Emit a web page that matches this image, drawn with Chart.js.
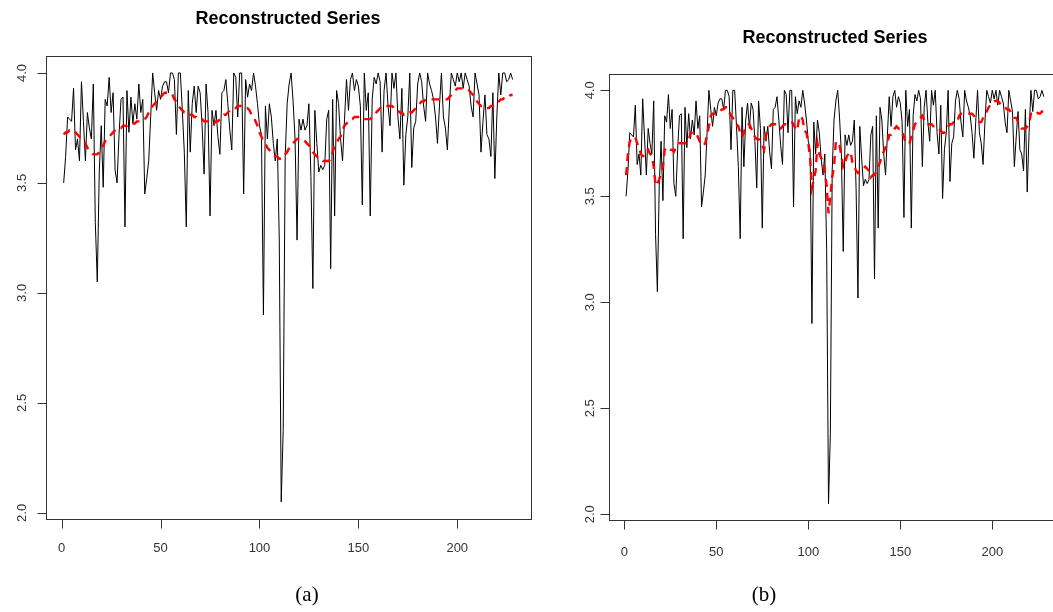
<!DOCTYPE html>
<html>
<head>
<meta charset="utf-8">
<script src="https://cdn.jsdelivr.net/npm/chart.js@4.4.0/dist/chart.umd.min.js"></script>
<style>
  html, body { margin:0; padding:0; background:#fff; overflow:hidden; }
  body { width:1053px; height:612px; position:relative; }
  canvas { position:absolute; top:0; }
  .title { position:absolute; font-family:'Liberation Sans', Arial, sans-serif; font-weight:bold; font-size:18px; color:#000; transform:translate(-50%,-50%); white-space:nowrap; }
  .caption { position:absolute; font-family:'Liberation Serif', 'Times New Roman', serif; font-size:21px; color:#000; transform:translate(-50%,-50%); }
</style>
</head>
<body>
<canvas id="chartA" width="545" height="612" style="left:0;width:545px;height:612px"></canvas>
<canvas id="chartB" width="525" height="612" style="left:545px;width:525px;height:612px"></canvas>
<div class="title" style="left:288px;top:18px">Reconstructed Series</div>
<div class="title" style="left:835px;top:37px">Reconstructed Series</div>
<div class="caption" style="left:307px;top:594px">(a)</div>
<div class="caption" style="left:764px;top:594px">(b)</div>
<script>
// original series (black), same in both panels
const original = [
  3.50, 3.62, 3.80, 3.79, 3.78, 3.93, 3.65, 3.70, 3.60, 3.96,
  3.78, 3.60, 3.82, 3.75, 3.70, 3.95, 3.32, 3.05, 3.55, 3.76,
  3.48, 3.88, 3.85, 3.98, 3.82, 3.91, 3.56, 3.50, 3.72, 3.88,
  3.89, 3.30, 3.92, 3.73, 3.89, 3.77, 3.86, 3.79, 3.95, 3.82,
  3.88, 3.45, 3.52, 3.60, 3.80, 4.00, 3.91, 3.83, 3.92, 3.88,
  3.94, 3.96, 3.96, 3.91, 4.00, 4.00, 3.97, 3.72, 4.00, 4.00,
  3.83, 3.64, 3.30, 3.92, 3.64, 3.86, 3.94, 3.82, 3.94, 3.91,
  3.76, 3.54, 3.95, 3.82, 3.35, 3.83, 3.76, 3.83, 3.71, 3.63,
  3.91, 3.92, 3.97, 3.86, 3.74, 3.65, 4.00, 3.98, 3.80, 4.00,
  4.00, 3.45, 3.97, 3.89, 3.95, 3.92, 4.00, 3.94, 3.86, 3.76,
  3.72, 2.90, 3.85, 3.70, 3.86, 3.80, 3.68, 3.60, 3.70, 3.25,
  2.05, 2.38, 3.62, 3.86, 3.95, 4.00, 3.87, 3.70, 3.24, 3.79,
  3.74, 3.79, 3.74, 3.76, 3.86, 3.53, 3.02, 3.83, 3.68, 3.55,
  3.58, 3.56, 3.58, 3.79, 3.83, 3.11, 3.88, 3.35, 3.92, 3.86,
  3.70, 3.60, 3.79, 3.97, 3.83, 3.97, 4.00, 3.92, 3.97, 3.94,
  3.85, 3.40, 4.00, 3.83, 3.91, 3.35, 3.88, 3.98, 3.95, 4.00,
  3.96, 3.64, 3.92, 4.00, 3.85, 3.76, 4.00, 3.93, 4.00, 3.80,
  3.70, 3.93, 3.49, 3.72, 3.80, 4.00, 3.57, 3.75, 3.78, 3.95,
  4.00, 3.96, 3.85, 3.78, 4.00, 3.95, 3.92, 3.88, 3.80, 3.68,
  3.85, 4.00, 3.80, 3.75, 3.65, 3.85, 4.00, 3.97, 3.94, 4.00,
  3.96, 4.00, 3.93, 4.00, 3.97, 3.94, 3.85, 3.80, 4.00, 3.95,
  3.90, 3.64, 3.78, 3.90, 3.72, 3.70, 3.62, 3.91, 3.52, 3.80,
  4.00, 3.90, 4.00, 4.00, 3.96, 3.97, 4.00, 3.97
];

// reconstruction shown in panel (a), smooth
const reconA = [
  3.72, 3.73, 3.73, 3.74, 3.74, 3.74, 3.73, 3.72, 3.71, 3.70,
  3.69, 3.68, 3.66, 3.65, 3.64, 3.63, 3.63, 3.63, 3.64, 3.66,
  3.67, 3.69, 3.70, 3.71, 3.72, 3.73, 3.74, 3.75, 3.75, 3.75,
  3.76, 3.76, 3.76, 3.77, 3.77, 3.77, 3.77, 3.78, 3.78, 3.78,
  3.79, 3.79, 3.80, 3.82, 3.84, 3.85, 3.86, 3.87, 3.88, 3.89,
  3.90, 3.91, 3.91, 3.91, 3.91, 3.90, 3.88, 3.87, 3.85, 3.84,
  3.83, 3.82, 3.82, 3.81, 3.81, 3.81, 3.80, 3.80, 3.79, 3.79,
  3.79, 3.78, 3.78, 3.78, 3.77, 3.77, 3.77, 3.78, 3.78, 3.79,
  3.80, 3.81, 3.81, 3.82, 3.83, 3.83, 3.84, 3.84, 3.85, 3.85,
  3.85, 3.85, 3.84, 3.84, 3.83, 3.81, 3.80, 3.78, 3.76, 3.73,
  3.71, 3.69, 3.68, 3.66, 3.65, 3.64, 3.63, 3.62, 3.62, 3.61,
  3.61, 3.62, 3.63, 3.64, 3.66, 3.67, 3.68, 3.69, 3.70, 3.70,
  3.70, 3.70, 3.69, 3.68, 3.67, 3.66, 3.64, 3.63, 3.62, 3.61,
  3.61, 3.60, 3.60, 3.60, 3.60, 3.61, 3.64, 3.67, 3.68, 3.70,
  3.71, 3.74, 3.76, 3.77, 3.78, 3.79, 3.79, 3.80, 3.80, 3.80,
  3.80, 3.80, 3.79, 3.79, 3.79, 3.79, 3.80, 3.81, 3.82, 3.83,
  3.84, 3.84, 3.85, 3.85, 3.85, 3.85, 3.85, 3.84, 3.84, 3.83,
  3.82, 3.82, 3.81, 3.81, 3.81, 3.82, 3.82, 3.83, 3.84, 3.85,
  3.86, 3.87, 3.87, 3.88, 3.88, 3.88, 3.88, 3.88, 3.88, 3.88,
  3.88, 3.88, 3.88, 3.88, 3.88, 3.89, 3.90, 3.91, 3.92, 3.93,
  3.93, 3.93, 3.93, 3.93, 3.93, 3.92, 3.91, 3.90, 3.89, 3.87,
  3.86, 3.85, 3.85, 3.84, 3.84, 3.84, 3.85, 3.85, 3.86, 3.86,
  3.87, 3.88, 3.88, 3.89, 3.89, 3.89, 3.90, 3.90
];

// reconstruction shown in panel (b), wiggly
const reconB = [
  3.60, 3.70, 3.76, 3.77, 3.78, 3.78, 3.75, 3.73, 3.70, 3.69,
  3.69, 3.71, 3.72, 3.70, 3.69, 3.64, 3.55, 3.56, 3.58, 3.61,
  3.64, 3.72, 3.73, 3.73, 3.72, 3.72, 3.71, 3.73, 3.74, 3.75,
  3.75, 3.75, 3.75, 3.76, 3.76, 3.80, 3.80, 3.80, 3.80, 3.78,
  3.76, 3.74, 3.74, 3.75, 3.79, 3.83, 3.88, 3.89, 3.89, 3.89,
  3.90, 3.90, 3.91, 3.91, 3.92, 3.92, 3.90, 3.88, 3.87, 3.86,
  3.84, 3.83, 3.80, 3.78, 3.80, 3.83, 3.84, 3.84, 3.82, 3.80,
  3.78, 3.77, 3.77, 3.76, 3.74, 3.72, 3.79, 3.81, 3.83, 3.84,
  3.84, 3.84, 3.84, 3.83, 3.82, 3.83, 3.84, 3.84, 3.84, 3.85,
  3.85, 3.84, 3.82, 3.81, 3.87, 3.88, 3.86, 3.81, 3.80, 3.75,
  3.68, 3.54, 3.58, 3.62, 3.75, 3.70, 3.68, 3.67, 3.61, 3.55,
  3.42, 3.50, 3.59, 3.64, 3.76, 3.75, 3.74, 3.69, 3.64, 3.66,
  3.69, 3.70, 3.71, 3.66, 3.64, 3.62, 3.61, 3.62, 3.63, 3.63,
  3.64, 3.63, 3.62, 3.59, 3.60, 3.60, 3.62, 3.64, 3.66, 3.69,
  3.71, 3.73, 3.75, 3.79, 3.79, 3.80, 3.82, 3.83, 3.82, 3.82,
  3.81, 3.78, 3.75, 3.75, 3.75, 3.78, 3.81, 3.84, 3.85, 3.86,
  3.87, 3.88, 3.86, 3.84, 3.84, 3.84, 3.84, 3.83, 3.83, 3.82,
  3.82, 3.81, 3.80, 3.80, 3.81, 3.83, 3.84, 3.84, 3.85, 3.85,
  3.85, 3.88, 3.89, 3.89, 3.89, 3.89, 3.89, 3.89, 3.89, 3.88,
  3.87, 3.86, 3.85, 3.85, 3.87, 3.89, 3.90, 3.92, 3.93, 3.94,
  3.95, 3.95, 3.95, 3.94, 3.93, 3.92, 3.92, 3.91, 3.91, 3.90,
  3.88, 3.87, 3.87, 3.85, 3.84, 3.82, 3.82, 3.82, 3.83, 3.84,
  3.89, 3.89, 3.90, 3.90, 3.89, 3.89, 3.90, 3.90
];

// axis ticks
const xTicks = [0, 50, 100, 150, 200];
const xTickLabels = ['0', '50', '100', '150', '200'];
const yTicks = [2.0, 2.5, 3.0, 3.5, 4.0];
const yTickLabels = ['2.0', '2.5', '3.0', '3.5', '4.0'];

// R style range: data range widened by 4% each side
const n = original.length;
const xSpan = n - 1;
const yLo = Math.min(...original), yHi = Math.max(...original);
const ySpan = yHi - yLo;

// box, ticks and labels drawn like base R graphics
const rAxes = {
  id: 'rAxes',
  afterDraw(chart, args, o) {
    const { ctx, chartArea: a, scales: { x, y } } = chart;
    ctx.save();
    ctx.strokeStyle = '#333';
    ctx.lineWidth = 1;
    ctx.strokeRect(Math.round(a.left) + 0.5, Math.round(a.top) + 0.5,
      Math.round(a.right - a.left), Math.round(a.bottom - a.top));
    ctx.fillStyle = '#333';
    ctx.font = '13px "Liberation Sans", Arial, sans-serif';
    const bottom = Math.round(a.bottom) + 0.5;
    const left = Math.round(a.left) + 0.5;
    ctx.beginPath();
    x.ticks.forEach(t => {
      const px = Math.round(x.getPixelForValue(t.value)) + 0.5;
      ctx.moveTo(px, bottom);
      ctx.lineTo(px, bottom + o.tick);
    });
    y.ticks.forEach(t => {
      const py = Math.round(y.getPixelForValue(t.value)) + 0.5;
      ctx.moveTo(left, py);
      ctx.lineTo(left - o.tick, py);
    });
    ctx.stroke();
    ctx.textAlign = 'center';
    ctx.textBaseline = 'middle';
    x.ticks.forEach((t, i) => {
      ctx.fillText(xTickLabels[i], x.getPixelForValue(t.value), a.bottom + o.xLab);
    });
    y.ticks.forEach((t, i) => {
      ctx.save();
      ctx.translate(a.left - o.yLab, y.getPixelForValue(t.value));
      ctx.rotate(-Math.PI / 2);
      ctx.fillText(yTickLabels[i], 0, 0);
      ctx.restore();
    });
    ctx.restore();
  }
};

function makePanel(id, recon, pad, lab) {
  return new Chart(document.getElementById(id), {
    type: 'line',
    data: {
      datasets: [
        {
          data: recon.map((v, i) => ({ x: i + 1, y: v })),
          borderColor: '#ff0000', borderWidth: 2.4, borderDash: [8, 6],
          pointRadius: 0, tension: 0, order: 0
        },
        {
          data: original.map((v, i) => ({ x: i + 1, y: v })),
          borderColor: '#000', borderWidth: 1,
          pointRadius: 0, tension: 0, order: 1
        }
      ]
    },
    options: {
      responsive: false,
      animation: false,
      layout: { padding: pad },
      plugins: { legend: { display: false }, tooltip: { enabled: false }, rAxes: lab },
      scales: {
        x: {
          type: 'linear', display: false,
          min: 1 - 0.04 * xSpan, max: n + 0.04 * xSpan,
          afterBuildTicks: s => { s.ticks = xTicks.map(v => ({ value: v })); }
        },
        y: {
          type: 'linear', display: false,
          min: yLo - 0.04 * ySpan, max: yHi + 0.04 * ySpan,
          afterBuildTicks: s => { s.ticks = yTicks.map(v => ({ value: v })); }
        }
      }
    },
    plugins: [rAxes]
  });
}

makePanel('chartA', reconA, { left: 45.7, right: 14.4, top: 55.8, bottom: 93 }, { tick: 9, xLab: 29, yLab: 23 });
makePanel('chartB', reconB, { left: 64.4, right: 9.5, top: 73.8, bottom: 91.8 }, { tick: 9, xLab: 32, yLab: 19 });
</script>
</body>
</html>
